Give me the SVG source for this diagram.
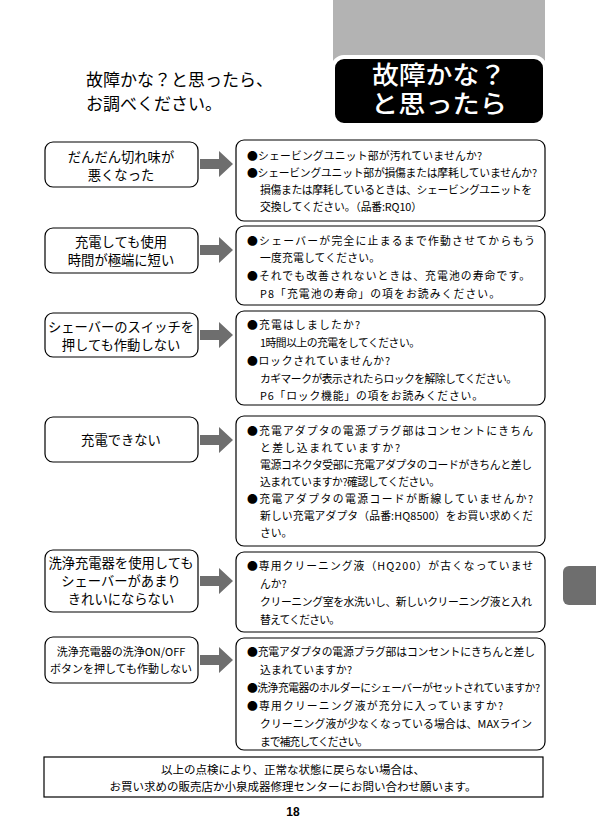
<svg xmlns="http://www.w3.org/2000/svg" width="596" height="840" viewBox="0 0 596 840">
<style>
text{font-family:"Noto Sans CJK JP","Noto Sans CJK SC",sans-serif;fill:#000}
.box{fill:#fff;stroke:#000;stroke-width:1.2}
.lt{font-size:13.3px;text-anchor:middle}
.rt{font-size:10.8px}
.arrow{fill:#6e6e6e}
</style>
<rect width="596" height="840" fill="#fff"/>
<g id="header">
<rect x="333" y="0" width="212" height="70" fill="#b3b3b3"/>
<rect x="333" y="57" width="212" height="68" rx="11" fill="#000" stroke="#fff" stroke-width="4"/>
<text font-size="25" font-weight="500" text-anchor="middle" style="fill:#fff"><tspan x="439" y="84" textLength="134" lengthAdjust="spacingAndGlyphs">故障かな？</tspan><tspan x="439" y="113" textLength="136" lengthAdjust="spacingAndGlyphs">と思ったら</tspan></text>
<text x="86" y="86" font-size="17">故障かな？と思ったら、</text>
<text x="86" y="110" font-size="17">お調べください。</text>
</g>
<g id="connectors">
<polygon class="arrow" points="200,159 219,159 219,151 233,164 219,177 219,169 200,169"/>
<polygon class="arrow" points="200,245 219,245 219,237 233,250 219,263 219,255 200,255"/>
<polygon class="arrow" points="200,330 219,330 219,322 233,335 219,348 219,340 200,340"/>
<polygon class="arrow" points="200,435 219,435 219,427 233,440 219,453 219,445 200,445"/>
<polygon class="arrow" points="200,576 219,576 219,568 233,581 219,594 219,586 200,586"/>
<polygon class="arrow" points="200,655 219,655 219,647 233,660 219,673 219,665 200,665"/>
</g>
<g id="q1"><rect class="box" x="45" y="142" width="153" height="45" rx="8"/>
<text class="lt" x="121" y="162">だんだん切れ味が</text><text class="lt" x="121" y="180">悪くなった</text></g>
<g id="q2"><rect class="box" x="45" y="228" width="153" height="45" rx="8"/>
<text class="lt" x="121" y="247">充電しても使用</text><text class="lt" x="121" y="265">時間が極端に短い</text></g>
<g id="q3"><rect class="box" x="45" y="313" width="153" height="44" rx="8"/>
<text class="lt" x="121" y="332">シェーバーのスイッチを</text><text class="lt" x="121" y="350">押しても作動しない</text></g>
<g id="q4"><rect class="box" x="45" y="417" width="153" height="45" rx="8"/>
<text class="lt" x="121" y="445">充電できない</text></g>
<g id="q5"><rect class="box" x="45" y="550" width="153" height="62" rx="8"/>
<text class="lt" x="121" y="568">洗浄充電器を使用しても</text><text class="lt" x="121" y="586">シェーバーがあまり</text><text class="lt" x="121" y="604">きれいにならない</text></g>
<g id="q6"><rect class="box" x="45" y="637" width="153" height="46" rx="8"/>
<text class="lt" x="121" y="656" style="font-size:11px">洗浄充電器の洗浄ON/OFF</text><text class="lt" x="121" y="673" style="font-size:11px">ボタンを押しても作動しない</text></g>

<g id="a1"><rect class="box" x="236" y="140" width="309" height="81" rx="8"/>
<text class="rt" x="247" y="160" textLength="235">●シェービングユニット部が汚れていませんか?</text>
<text class="rt" x="247" y="177" textLength="290">●シェービングユニット部が損傷または摩耗していませんか?</text>
<text class="rt" x="260" y="194" textLength="272">損傷または摩耗しているときは、シェービングユニットを</text>
<text class="rt" x="260" y="211" textLength="162">交換してください。（品番:RQ10）</text></g>
<g id="a2"><rect class="box" x="236" y="226" width="309" height="79" rx="8"/>
<text class="rt" x="247" y="245" textLength="288">●シェーバーが完全に止まるまで作動させてからもう</text>
<text class="rt" x="260" y="262" textLength="120">一度充電してください。</text>
<text class="rt" x="247" y="280" textLength="283">●それでも改善されないときは、充電池の寿命です。</text>
<text class="rt" x="260" y="298" textLength="240">P8「充電池の寿命」の項をお読みください。</text></g>
<g id="a3"><rect class="box" x="236" y="311" width="309" height="94" rx="8"/>
<text class="rt" x="247" y="329" textLength="113">●充電はしましたか?</text>
<text class="rt" x="260" y="347" textLength="160">1時間以上の充電をしてください。</text>
<text class="rt" x="247" y="365" textLength="143">●ロックされていませんか?</text>
<text class="rt" x="260" y="383" textLength="257">カギマークが表示されたらロックを解除してください。</text>
<text class="rt" x="260" y="400" textLength="223">P6「ロック機能」の項をお読みください。</text></g>
<g id="a4"><rect class="box" x="236" y="416" width="309" height="130" rx="8"/>
<text class="rt" x="247" y="435" textLength="286">●充電アダプタの電源プラグ部はコンセントにきちん</text>
<text class="rt" x="260" y="452" textLength="140">と差し込まれていますか?</text>
<text class="rt" x="260" y="469" textLength="272">電源コネクタ受部に充電アダプタのコードがきちんと差し</text>
<text class="rt" x="260" y="486" textLength="180">込まれていますか?確認してください。</text>
<text class="rt" x="247" y="503" textLength="286">●充電アダプタの電源コードが断線していませんか?</text>
<text class="rt" x="260" y="520" textLength="273">新しい充電アダプタ（品番:HQ8500）をお買い求めくだ</text>
<text class="rt" x="260" y="537">さい。</text></g>
<g id="a5"><rect class="box" x="236" y="552" width="309" height="80" rx="8"/>
<text class="rt" x="247" y="570" textLength="286">●専用クリーニング液（HQ200）が古くなっていませ</text>
<text class="rt" x="260" y="588">んか?</text>
<text class="rt" x="260" y="606" textLength="272">クリーニング室を水洗いし、新しいクリーニング液と入れ</text>
<text class="rt" x="260" y="624" textLength="80">替えてください。</text></g>
<g id="a6"><rect class="box" x="236" y="638" width="309" height="112" rx="8"/>
<text class="rt" x="247" y="656" textLength="288">●充電アダプタの電源プラグ部はコンセントにきちんと差し</text>
<text class="rt" x="260" y="674" textLength="92">込まれていますか?</text>
<text class="rt" x="247" y="692" textLength="293">●洗浄充電器のホルダーにシェーバーがセットされていますか?</text>
<text class="rt" x="247" y="710" textLength="256">●専用クリーニング液が充分に入っていますか?</text>
<text class="rt" x="260" y="728" textLength="272">クリーニング液が少なくなっている場合は、MAXライン</text>
<text class="rt" x="260" y="746" textLength="108">まで補充してください。</text></g>

<g id="footer">
<rect x="44" y="757" width="499" height="40" fill="#fff" stroke="#000" stroke-width="1.2"/>
<text x="293" y="774" font-size="11.5" text-anchor="middle">以上の点検により、正常な状態に戻らない場合は、</text>
<text x="293" y="791" font-size="11.5" text-anchor="middle">お買い求めの販売店か小泉成器修理センターにお問い合わせ願います。</text>
<text x="293" y="816" font-size="12" font-weight="bold" text-anchor="middle" style="font-family:'Liberation Sans',sans-serif">18</text>
</g>
<path id="sidetab" d="M596,566 H569 a6,6 0 0 0 -6,6 V599 a6,6 0 0 0 6,6 H596 Z" fill="#6e6e6e"/>
</svg>
